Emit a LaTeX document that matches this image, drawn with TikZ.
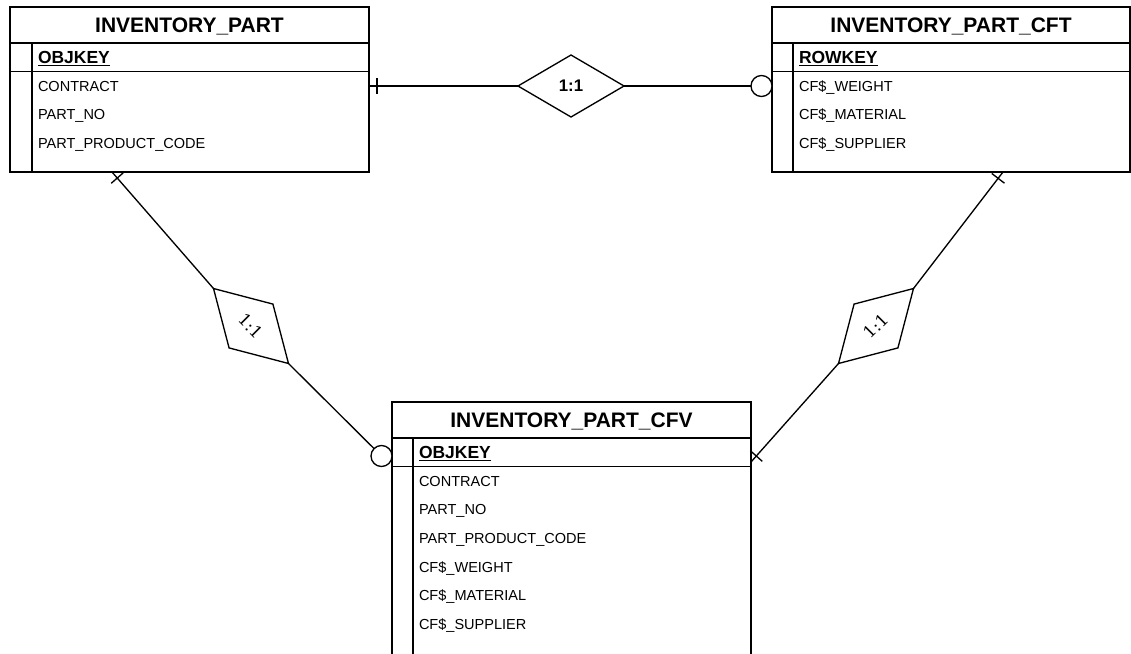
\documentclass[tikz,border=0pt]{standalone}
\usepackage{fontspec}
\setmainfont{Liberation Sans}
\newfontfamily\relfont{DejaVu Serif}
\usetikzlibrary{positioning, shapes.geometric, calc}

\newcommand{\pxu}{0.75pt}
% short bar across a connector, a little way in from its end
\newcommand{\onebar}[2]{%
  \coordinate (bar-mid) at ($(#1)!6pt!(#2)$);
  \draw[conn] ($(bar-mid)!6pt!90:(#2)$) -- ($(bar-mid)!6pt!-90:(#2)$);}

\begin{document}
\begin{tikzpicture}[
    x=\pxu, y=-\pxu,
    every node/.style={outer sep=0pt},
    entbox/.style={
      rectangle, draw, line width=1.2pt, fill=white, inner sep=0pt,
      anchor=north west
    },
    enthead/.style={
      rectangle, draw, line width=1.2pt, inner sep=0pt, anchor=north,
      minimum height=36*\pxu, text height=11.3pt, text depth=0pt,
      font=\bfseries\fontsize{15.75}{18}\selectfont
    },
    keyrow/.style={
      inner sep=0pt, anchor=north west, minimum height=28.5*\pxu,
      text height=9.4pt, text depth=0pt,
      font=\bfseries\fontsize{13.1}{15}\selectfont
    },
    field/.style={
      inner sep=0pt, anchor=north west, minimum height=28.7*\pxu,
      text height=7.8pt, text depth=0pt,
      font=\fontsize{10.9}{13}\selectfont
    },
    rel/.style={
      diamond, draw, line width=1pt, fill=white, inner sep=0pt,
      minimum width=106*\pxu, minimum height=62*\pxu
    },
    optcirc/.style={
      circle, draw, line width=1pt, fill=white, inner sep=0pt,
      minimum size=21*\pxu
    },
    conn/.style={line width=1pt},
    sepline/.style={line width=0.6pt},
    stripline/.style={line width=1.2pt}
  ]
    \useasboundingbox (0,0) rectangle (1131,653);

    % INVENTORY_PART
    \node[entbox, minimum width=359*\pxu, minimum height=165*\pxu] (part) at (10,7) {};
    \node[enthead, minimum width=359*\pxu] (part-h) at (part.north) {INVENTORY\_PART};
    \node[keyrow] (part-k) at ($(part-h.south west)+(28,0)$) {\underline{OBJKEY}};
    \node[field] (part-f1) at (part-k.south west) {CONTRACT};
    \node[field] (part-f2) at (part-f1.south west) {PART\_NO};
    \node[field] (part-f3) at (part-f2.south west) {PART\_PRODUCT\_CODE};
    \draw[sepline] (part-h.south west |- part-k.south) -- (part-h.south east |- part-k.south);
    \draw[stripline] ($(part-h.south west)+(22,0)$) -- ($(part.south west)+(22,0)$);

    % INVENTORY_PART_CFT
    \node[entbox, minimum width=358*\pxu, minimum height=165*\pxu] (cft) at (772,7) {};
    \node[enthead, minimum width=358*\pxu] (cft-h) at (cft.north) {INVENTORY\_PART\_CFT};
    \node[keyrow] (cft-k) at ($(cft-h.south west)+(27,0)$) {\underline{ROWKEY}};
    \node[field] (cft-f1) at (cft-k.south west) {CF\$\_WEIGHT};
    \node[field] (cft-f2) at (cft-f1.south west) {CF\$\_MATERIAL};
    \node[field] (cft-f3) at (cft-f2.south west) {CF\$\_SUPPLIER};
    \draw[sepline] (cft-h.south west |- cft-k.south) -- (cft-h.south east |- cft-k.south);
    \draw[stripline] ($(cft-h.south west)+(21,0)$) -- ($(cft.south west)+(21,0)$);

    % INVENTORY_PART_CFV
    \node[entbox, minimum width=359*\pxu, minimum height=262*\pxu] (cfv) at (392,402) {};
    \node[enthead, minimum width=359*\pxu] (cfv-h) at (cfv.north) {INVENTORY\_PART\_CFV};
    \node[keyrow] (cfv-k) at ($(cfv-h.south west)+(27,0)$) {\underline{OBJKEY}};
    \node[field] (cfv-f1) at (cfv-k.south west) {CONTRACT};
    \node[field] (cfv-f2) at (cfv-f1.south west) {PART\_NO};
    \node[field] (cfv-f3) at (cfv-f2.south west) {PART\_PRODUCT\_CODE};
    \node[field] (cfv-f4) at (cfv-f3.south west) {CF\$\_WEIGHT};
    \node[field] (cfv-f5) at (cfv-f4.south west) {CF\$\_MATERIAL};
    \node[field] (cfv-f6) at (cfv-f5.south west) {CF\$\_SUPPLIER};
    \draw[sepline] (cfv-h.south west |- cfv-k.south) -- (cfv-h.south east |- cfv-k.south);
    \draw[stripline] ($(cfv-h.south west)+(21,0)$) -- ($(cfv.south west)+(21,0)$);

    % relationships
    \node[rel, font=\bfseries\fontsize{12.6}{15}\selectfont] (rel1) at (571,86) {1:1};
    \node[rel, rotate=-45, font=\relfont\fontsize{12.5}{14}\selectfont] (rel2) at (251,326) {1:1};
    \node[rel, rotate=45, font=\relfont\fontsize{12.5}{14}\selectfont] (rel3) at (876,326) {1:1};

    \coordinate (e1) at (part.east |- rel1.west);
    \coordinate (e2) at ($(part.south west)+(102,0)$);
    \coordinate (e3) at ($(cft.south west)+(231,0)$);
    \coordinate (e4) at ($(cfv.north east)+(0,60)$);
    \coordinate (e5) at (cft.west |- rel1.east);
    \coordinate (e6) at ($(cfv.north west)+(0,54)$);
    \node[optcirc, left=0pt of e5] (c1) {};
    \node[optcirc, left=0pt of e6] (c2) {};

    \draw[conn] (e1) -- (rel1.west);
    \draw[conn] (rel1.east) -- (c1);
    \draw[conn] (e2) -- (rel2.west);
    \draw[conn] (rel2.east) -- (c2);
    \draw[conn] (e3) -- (rel3.east);
    \draw[conn] (rel3.west) -- (e4);

    \onebar{e1}{rel1.west}
    \onebar{e2}{rel2.west}
    \onebar{e3}{rel3.east}
    \onebar{e4}{rel3.west}
  \end{tikzpicture}
\end{document}
